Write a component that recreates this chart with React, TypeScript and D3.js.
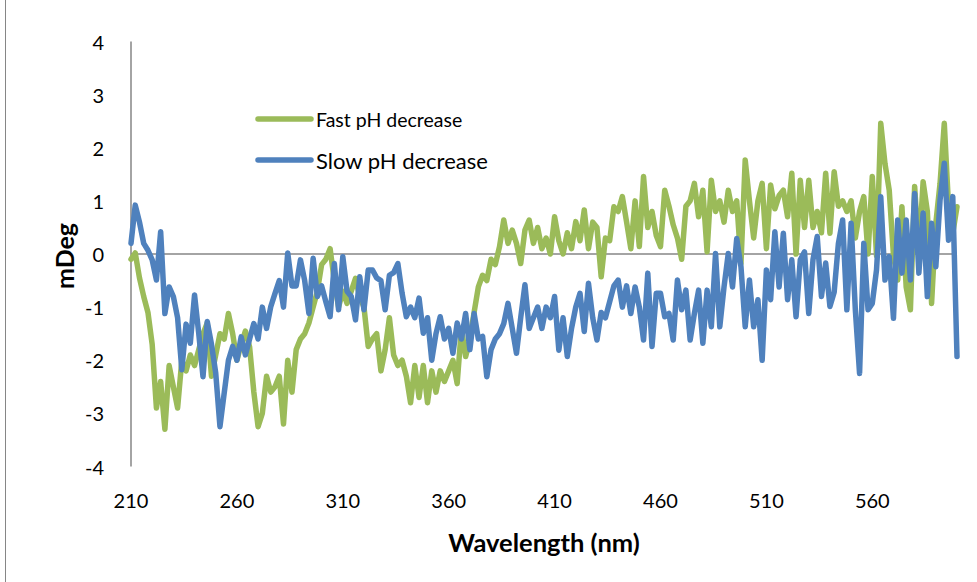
import React from "react";
import * as d3 from "d3";

// Wavelength categories (nm), 2 nm step from 210 to 600
const WAVELENGTHS: number[] = d3.range(210, 601, 2);

// Fast pH decrease (mDeg)
const FAST: number[] = [
  -0.1, 0.02, -0.45, -0.8, -1.1, -1.7, -2.9, -2.4, -3.3, -2.1,
  -2.5, -2.9, -2.0, -2.2, -1.9, -2.1, -1.8, -1.5, -1.3, -2.3,
  -1.9, -1.5, -1.6, -1.12, -1.5, -2.0, -1.7, -1.45, -1.75, -2.6,
  -3.25, -3.0, -2.3, -2.6, -2.5, -2.3, -3.2, -2.0, -2.6, -1.8,
  -1.6, -1.5, -1.3, -1.0, -0.7, -0.2, -0.1, 0.1, -0.5, -1.0,
  -0.7, -0.93, -0.7, -0.46, -0.8, -1.0, -1.74, -1.6, -1.5, -2.2,
  -1.8, -1.2, -1.9, -2.1, -2.0, -2.3, -2.8, -2.1, -2.7, -2.1,
  -2.8, -2.2, -2.6, -2.2, -2.4, -2.2, -2.0, -2.44, -1.4, -1.93,
  -1.6, -1.1, -0.62, -0.4, -0.5, -0.1, -0.2, 0.14, 0.64, 0.2,
  0.45, 0.2, -0.18, 0.45, 0.64, 0.2, 0.5, 0.1, 0.3, 0.0,
  0.7, 0.25, 0.0, 0.4, 0.1, 0.61, 0.25, 0.83, 0.1, 0.6,
  0.5, -0.43, 0.3, 0.25, 0.89, 0.8, 1.08, 0.6, 0.1, 1.0,
  0.14, 1.46, 0.5, 0.8, 0.35, 0.14, 1.2, 0.9, 0.55, 0.3,
  -0.1, 0.9, 1.0, 1.33, 0.7, 1.2, 0.04, 1.39, 0.8, 1.0,
  0.6, 1.2, 0.8, 1.0, -0.18, 1.77, 1.0, 0.3, 1.0, 1.33,
  0.1, 1.3, 0.85, 1.1, 1.2, 0.7, 1.52, 0.0, 1.39, 0.5,
  1.39, 0.5, 0.8, 0.4, 1.52, 0.39, 1.55, 0.9, 1.0, 0.8,
  1.0, 0.3, 0.8, 1.08, 0.0, 1.46, -0.03, 2.46, 1.7, 1.2,
  -0.03, -0.49, 0.89, -0.62, -1.05, 1.27, 0.0, 1.36, 0.8, -0.93,
  0.58, 1.33, 2.46, 0.9, 0.39, 0.89,
];

// Slow pH decrease (mDeg)
const SLOW: number[] = [
  0.2, 0.92, 0.6, 0.2, 0.07, -0.11, -0.49, 0.42, -1.12, -0.62,
  -0.8, -1.2, -2.18, -1.32, -1.68, -0.77, -1.5, -2.31, -1.27, -1.7,
  -2.24, -3.25, -2.62, -2.0, -1.74, -2.0, -1.56, -1.9, -1.6, -1.31,
  -1.6, -1.0, -1.4, -0.99, -0.74, -0.5, -1.0, 0.02, -0.6, -0.6,
  -0.11, -0.5, -1.12, -0.08, -0.8, -0.6, -0.9, -1.18, -0.18, -1.05,
  -0.05, -0.7, -0.8, -1.24, -0.43, -1.05, -0.3, -0.3, -0.45, -0.5,
  -1.05, -0.4, -0.35, -0.18, -0.74, -1.18, -1.0, -1.2, -0.83, -1.49,
  -1.2, -2.0, -1.5, -1.18, -1.6, -1.4, -1.87, -1.3, -1.6, -1.12,
  -1.8, -1.12, -1.6, -1.55, -2.31, -1.8, -1.6, -1.5, -1.31, -0.93,
  -1.4, -1.87, -1.2, -0.58, -1.4, -1.2, -1.0, -1.4, -1.0, -1.2,
  -0.8, -1.81, -1.2, -1.93, -1.4, -1.0, -0.74, -1.46, -0.55, -1.2,
  -1.62, -1.1, -1.2, -0.9, -0.6, -0.49, -1.0, -0.6, -1.12, -0.62,
  -1.0, -1.62, -0.36, -1.74, -0.74, -0.74, -1.18, -1.12, -1.62, -0.49,
  -1.05, -0.68, -1.62, -1.12, -0.68, -1.68, -0.68, -1.37, 0.01, -1.37,
  -0.62, 0.01, -0.62, 0.29, -0.24, -1.37, -0.49, -1.37, -0.86, -2.0,
  -0.3, -0.86, 0.42, -0.62, 0.39, -0.86, -0.11, -1.18, -0.11, 0.04,
  -1.12, -0.11, 0.33, -0.8, -0.17, -0.99, -0.72, 0.2, 0.64, -1.05,
  0.58, -1.05, -2.25, 0.2, -1.05, -0.93, -0.3, 1.08, -0.49, -0.05,
  -1.21, 0.64, -0.36, 0.64, -0.49, 1.14, -0.36, 0.77, -0.8, 0.58,
  -0.24, 1.02, 1.71, 0.26, 1.08, -1.93,
];

const X_TICKS: number[] = [210, 260, 310, 360, 410, 460, 510, 560];
const Y_TICKS: number[] = [4, 3, 2, 1, 0, -1, -2, -3, -4];

const SERIES = [
  { name: "Fast pH decrease", values: FAST, color: "#9BBB59" },
  { name: "Slow pH decrease", values: SLOW, color: "#4F81BD" },
];

const W = 977;
const H = 582;
const FONT = "Lato, 'Open Sans', sans-serif";

export default function App() {
  const x = d3.scaleLinear().domain([210, 600]).range([131, 957]);
  const y = d3.scaleLinear().domain([-4, 4]).range([466.5, 41.5]);

  const line = d3
    .line<number>()
    .x((_, i) => x(WAVELENGTHS[i]))
    .y((d) => y(d))
    .curve(d3.curveLinear);

  return (
    <svg
      width={W}
      height={H}
      style={{ position: "absolute", left: 0, top: 0, background: "#fff" }}
      fontFamily={FONT}
    >
      <rect x={0} y={0} width={W} height={H} fill="#fff" />
      {/* chart area border (left edge visible) */}
      <line x1={5.5} x2={5.5} y1={0} y2={H} stroke="#868686" strokeWidth={1} />

      {/* y axis */}
      <line x1={x(210)} x2={x(210)} y1={y(4)} y2={y(-4)} stroke="#868686" strokeWidth={1.5} />
      {/* x axis at zero */}
      <line x1={x(210)} x2={x(600)} y1={y(0)} y2={y(0)} stroke="#868686" strokeWidth={1.5} />

      {Y_TICKS.map((t) => (
        <text
          key={"y" + t}
          x={104}
          y={y(t)}
          textAnchor="end"
          dominantBaseline="central"
          fontSize={20}
          fill="#000"
        >
          {t}
        </text>
      ))}

      {X_TICKS.map((t) => (
        <text
          key={"x" + t}
          x={x(t)}
          y={500}
          textAnchor="middle"
          dominantBaseline="central"
          fontSize={20}
          fill="#000"
        >
          {t}
        </text>
      ))}

      {/* series */}
      {SERIES.map((s) => (
        <path
          key={s.name}
          d={line(s.values) || ""}
          fill="none"
          stroke={s.color}
          strokeWidth={5.5}
          strokeLinejoin="round"
          strokeLinecap="round"
        />
      ))}

      {/* legend */}
      <line x1={258} x2={311} y1={119} y2={119} stroke={SERIES[0].color} strokeWidth={5.5} strokeLinecap="round" />
      <text x={316} y={119} dominantBaseline="central" fontSize={19.5} fill="#000">
        {SERIES[0].name}
      </text>
      <line x1={258} x2={311} y1={160} y2={160} stroke={SERIES[1].color} strokeWidth={5.5} strokeLinecap="round" />
      <text x={316} y={160} dominantBaseline="central" fontSize={22} fill="#000">
        {SERIES[1].name}
      </text>

      {/* axis titles */}
      <text
        x={544}
        y={542}
        textAnchor="middle"
        dominantBaseline="central"
        fontSize={25.5}
        fontWeight="bold"
        fill="#000"
      >
        Wavelength (nm)
      </text>
      <text
        transform={`translate(64,256) rotate(-90)`}
        textAnchor="middle"
        dominantBaseline="central"
        fontSize={25}
        fontWeight="bold"
        fill="#000"
      >
        mDeg
      </text>
    </svg>
  );
}
